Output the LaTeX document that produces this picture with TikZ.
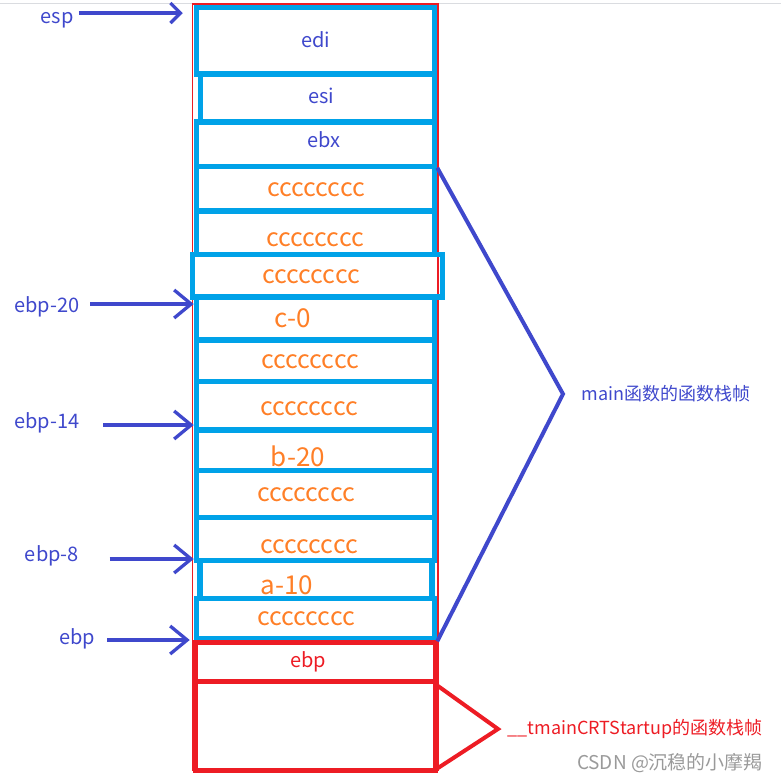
\documentclass[tikz,border=0pt]{standalone}
\usepackage{fontspec}
\setmainfont{Noto Sans CJK SC}
\usetikzlibrary{arrows.meta,positioning}
\definecolor{paintblue}{HTML}{00A2E8}
\definecolor{penblue}{HTML}{3F48CC}
\definecolor{paintred}{HTML}{ED1C24}
\definecolor{paintorange}{HTML}{FF7F27}
\definecolor{wmgray}{HTML}{9A9A9A}
\definecolor{topgray}{HTML}{DADCE0}

\begin{document}
\begin{tikzpicture}[x=1pt,y=-1pt,
  slot/.style={draw=paintblue, line width=5.5pt, rectangle, inner sep=0pt, minimum width=238pt},
  redbox/.style={draw=paintred, line width=5pt, rectangle, inner sep=0pt, minimum width=240pt},
  reg/.style={text=penblue, font=\fontsize{20}{22}\selectfont},
  cc/.style={text=paintorange, font=\fontsize{25}{27}\selectfont},
  varname/.style={text=paintorange, font=\fontsize{26}{28}\selectfont},
  lbl/.style={text=penblue, font=\fontsize{20}{22}\selectfont},
  ptr/.style={draw=penblue, line width=3.3pt, -{Straight Barb[length=17pt,width=28pt]}},
  brace/.style={line width=4pt, line join=miter},
]
\useasboundingbox (0,0) rectangle (781,782);
\draw[topgray, line width=1pt] (0,3) -- (781,3);
% red outline behind the stack
\draw[paintred, line width=1.2pt] (192.5,4) rectangle (438,770);
% main: one slot per 4 bytes
\node[slot, minimum height=66.5pt] (s1) at (315.5,40.75) {};
\node[slot, minimum width=234pt, minimum height=48pt] (s2) at (317.5,98) {};
\node[slot, minimum height=44.5pt] (s3) at (315.5,144.25) {};
\node[slot, minimum height=44.5pt] (s4) at (315.5,188.75) {};
\node[slot, minimum height=43.5pt] (s5) at (315.5,232.75) {};
\node[slot, minimum width=250pt, minimum height=42.5pt] (s6) at (317.5,275.75) {};
\node[slot, minimum height=43pt] (s7) at (315.5,318.5) {};
\node[slot, minimum height=41.5pt] (s8) at (315.5,360.75) {};
\node[slot, minimum height=48.5pt] (s9) at (315.5,405.75) {};
\node[slot, minimum height=40.5pt] (s10) at (315.5,450.25) {};
\node[slot, minimum height=47pt] (s11) at (315.5,494) {};
\node[slot, minimum height=43pt] (s12) at (315.5,539) {};
\node[slot, minimum width=232pt, minimum height=38pt] (s13) at (316,579.5) {};
\node[slot, minimum height=40pt] (s14) at (315.5,618.5) {};
% caller frame
\node[redbox, minimum height=39pt] (s15) at (315.5,662) {};
\node[redbox, minimum height=89pt] (s16) at (315.5,726) {};
% slot contents
\node[reg] (edi) at (315.5,40) {edi};
\node[reg] (esi) at (321.5,96) {esi};
\node[reg] (ebx) at (324,140) {ebx};
\node[cc] (c1) at (316,189.5) {cccccccc};
\node[cc] (c2) at (315,240) {cccccccc};
\node[cc] (c3) at (311,276.5) {cccccccc};
\node[varname] (varc) at (293,318) {c-0};
\node[cc] (c4) at (310,361.5) {cccccccc};
\node[cc] (c5) at (309,408.5) {cccccccc};
\node[varname] (varb) at (298,456) {b-20};
\node[cc] (c6) at (306,495) {cccccccc};
\node[cc] (c7) at (309,546.5) {cccccccc};
\node[varname] (vara) at (287,585) {a-10};
\node[cc] (c8) at (306,618.5) {cccccccc};
\node[reg, text=paintred] (oldebp) at (308,662) {ebp};
% register labels on the left
\node[lbl] (esp) at (57,20) {esp};
\node[lbl] (ebp20) at (47,307) {ebp-20};
\node[lbl] (ebp14) at (47,423) {ebp-14};
\node[lbl] (ebp8) at (52,556) {ebp-8};
\node[lbl] (ebp) at (77,639) {ebp};
\draw[ptr, -{Straight Barb[length=10pt,width=20pt]}, shorten <=2pt, shorten >=11pt]
  ([yshift=7pt]esp.east) -- ([yshift=7pt]esp.east -| s1.west);
\draw[ptr, shorten <=7pt] ([yshift=3pt]ebp20.east) -- ([yshift=3pt]ebp20.east -| s7.west);
\draw[ptr, shorten <=20pt] ([yshift=-2pt]ebp14.east) -- ([yshift=-2pt]ebp14.east -| s9.west);
\draw[ptr, shorten <=27pt] ([yshift=-3pt]ebp8.east) -- ([yshift=-3pt]ebp8.east -| s12.west);
\draw[ptr, shorten <=9pt, shorten >=4pt] ([yshift=-1pt]ebp.east) -- ([yshift=-1pt]ebp.east -| s14.west);
% frame braces on the right
\coordinate (mtip) at (563,394);
\draw[brace, draw=penblue] ([yshift=-4pt]s4.north east) -- (mtip) -- (s14.south east);
\node[lbl, right=15pt of mtip, font=\fontsize{18}{20}\selectfont] (mainlbl) {main函数的函数栈帧};
\coordinate (ttip) at (498,729);
\draw[brace, draw=paintred] ([yshift=-7pt]s16.north east) -- (ttip) -- ([yshift=5pt]s16.south east);
\node[right=6pt of ttip, text=paintred, font=\fontsize{18}{20}\selectfont] (crtlbl) {\_\_tmainCRTStartup的函数栈帧};
\node[text=wmgray, font=\fontsize{19}{21}\selectfont] (mark) at (670,763) {CSDN @沉稳的小摩羯};
\end{tikzpicture}
\end{document}
